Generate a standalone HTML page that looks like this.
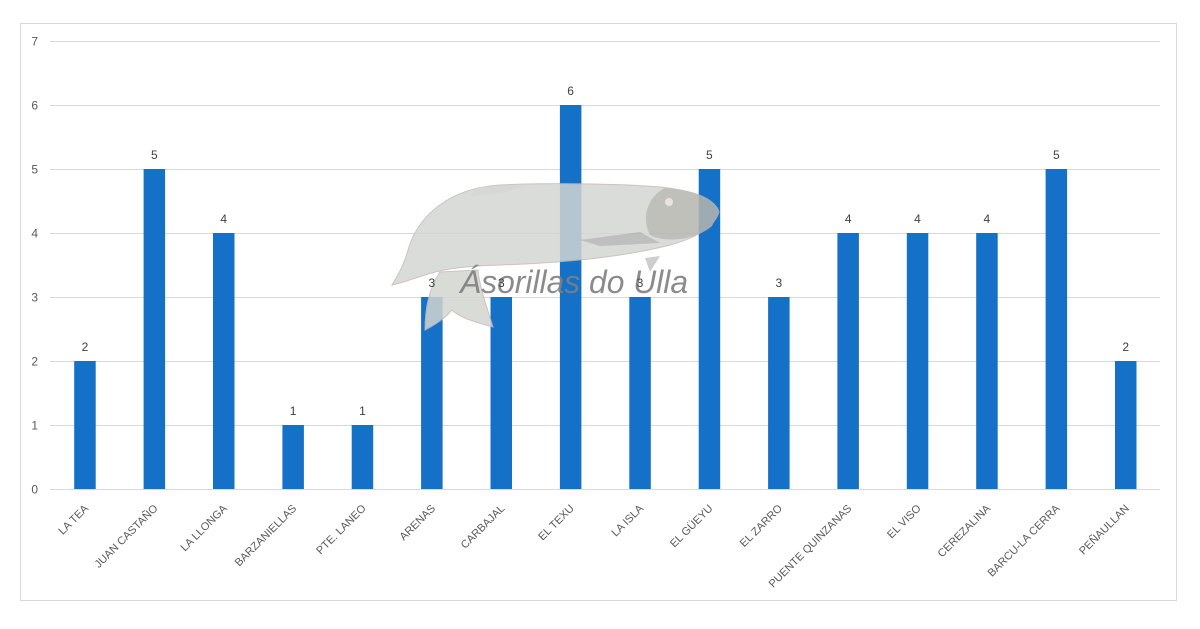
<!DOCTYPE html>
<html><head><meta charset="utf-8"><style>
html,body{margin:0;padding:0;background:#fff;}
svg{display:block;}
text{font-family:"Liberation Sans",sans-serif;}
</style></head><body>
<svg width="1200" height="629" viewBox="0 0 1200 629" xmlns="http://www.w3.org/2000/svg">
<rect x="0" y="0" width="1200" height="629" fill="#fff"/>
<rect x="20.5" y="23.5" width="1156" height="577" fill="#fff" stroke="#d9d9d9" stroke-width="1"/>
<g stroke="#d9d9d9" stroke-width="1">
<line x1="50" y1="41.5" x2="1160" y2="41.5"/>
<line x1="50" y1="105.5" x2="1160" y2="105.5"/>
<line x1="50" y1="169.5" x2="1160" y2="169.5"/>
<line x1="50" y1="233.5" x2="1160" y2="233.5"/>
<line x1="50" y1="297.5" x2="1160" y2="297.5"/>
<line x1="50" y1="361.5" x2="1160" y2="361.5"/>
<line x1="50" y1="425.5" x2="1160" y2="425.5"/>
<line x1="50" y1="489.5" x2="1160" y2="489.5"/>
</g>
<g fill="#595959" font-size="12" text-anchor="end">
<text x="38" y="45.5">7</text>
<text x="38" y="109.5">6</text>
<text x="38" y="173.5">5</text>
<text x="38" y="237.5">4</text>
<text x="38" y="301.5">3</text>
<text x="38" y="365.5">2</text>
<text x="38" y="429.5">1</text>
<text x="38" y="493.5">0</text>
</g>
<g fill="#1570c8">
<rect x="74.2" y="361" width="21.5" height="128"/>
<rect x="143.6" y="169" width="21.5" height="320"/>
<rect x="213.0" y="233" width="21.5" height="256"/>
<rect x="282.4" y="425" width="21.5" height="64"/>
<rect x="351.7" y="425" width="21.5" height="64"/>
<rect x="421.1" y="297" width="21.5" height="192"/>
<rect x="490.5" y="297" width="21.5" height="192"/>
<rect x="559.9" y="105" width="21.5" height="384"/>
<rect x="629.3" y="297" width="21.5" height="192"/>
<rect x="698.7" y="169" width="21.5" height="320"/>
<rect x="768.1" y="297" width="21.5" height="192"/>
<rect x="837.4" y="233" width="21.5" height="256"/>
<rect x="906.8" y="233" width="21.5" height="256"/>
<rect x="976.2" y="233" width="21.5" height="256"/>
<rect x="1045.6" y="169" width="21.5" height="320"/>
<rect x="1115.0" y="361" width="21.5" height="128"/>
</g>
<!-- fish watermark -->
<g opacity="0.85">
<path d="M719 212 C715 198,690 190,660 187 C610 183,540 183,500 185 C450 188,418 215,408 250 C404 265,398 275,392 285 C405 282,415 278,425 275 C440 270,460 266,500 265 C560 263,620 258,670 245 C700 237,715 225,719 212 Z" fill="#d3d6d2" stroke="#c4b8b8" stroke-width="1"/>
<path d="M440 272 L478 270 C480 290,488 310,493 327 C475 322,460 318,452 310 C445 318,435 325,425 330 C425 310,428 290,440 272 Z" fill="#d3d5d1" stroke="#c4b8b8" stroke-width="1"/>
<path d="M470 196 L478 187 L525 185 L505 192 Z" fill="#cfd2cf"/>
<path d="M719 212 C715 198,695 190,665 188 C650 195,640 215,650 235 C670 245,700 237,712 226 Z" fill="#b6b6b0"/>
<path d="M580 240 L640 232 L660 243 L600 246 Z" fill="#b3b5b3"/>
<path d="M645 258 L660 256 L650 272 Z" fill="#c4c6c4"/>
<circle cx="669" cy="202" r="4" fill="#e8dcdc"/>
</g>
<text x="460" y="293" font-size="32" font-style="italic" fill="#7f7f7f" opacity="0.9" textLength="228" lengthAdjust="spacingAndGlyphs">Ásorillas do Ulla</text>
<g fill="#404040" font-size="12" text-anchor="middle">
<text x="85" y="351">2</text>
<text x="154.4" y="159">5</text>
<text x="223.7" y="223">4</text>
<text x="293.1" y="415">1</text>
<text x="362.5" y="415">1</text>
<text x="431.9" y="287">3</text>
<text x="501.3" y="287">3</text>
<text x="570.6" y="95">6</text>
<text x="640" y="287">3</text>
<text x="709.4" y="159">5</text>
<text x="778.8" y="287">3</text>
<text x="848.2" y="223">4</text>
<text x="917.5" y="223">4</text>
<text x="986.9" y="223">4</text>
<text x="1056.3" y="159">5</text>
<text x="1125.7" y="351">2</text>
</g>
<g fill="#595959" font-size="11" text-anchor="end">
<text transform="translate(89,509) rotate(-45)">LA TEA</text>
<text transform="translate(158.4,509) rotate(-45)">JUAN CASTAÑO</text>
<text transform="translate(227.7,509) rotate(-45)">LA LLONGA</text>
<text transform="translate(297.1,509) rotate(-45)">BARZANIELLAS</text>
<text transform="translate(366.5,509) rotate(-45)">PTE. LANEO</text>
<text transform="translate(435.9,509) rotate(-45)">ARENAS</text>
<text transform="translate(505.3,509) rotate(-45)">CARBAJAL</text>
<text transform="translate(574.6,509) rotate(-45)">EL TEXU</text>
<text transform="translate(644,509) rotate(-45)">LA ISLA</text>
<text transform="translate(713.4,509) rotate(-45)">EL GÜEYU</text>
<text transform="translate(782.8,509) rotate(-45)">EL ZARRO</text>
<text transform="translate(852.2,509) rotate(-45)">PUENTE QUINZANAS</text>
<text transform="translate(921.5,509) rotate(-45)">EL VISO</text>
<text transform="translate(990.9,509) rotate(-45)">CEREZALINA</text>
<text transform="translate(1060.3,509) rotate(-45)">BARCU-LA CERRA</text>
<text transform="translate(1129.7,509) rotate(-45)">PEÑAULLAN</text>
</g>
</svg>
</body></html>
